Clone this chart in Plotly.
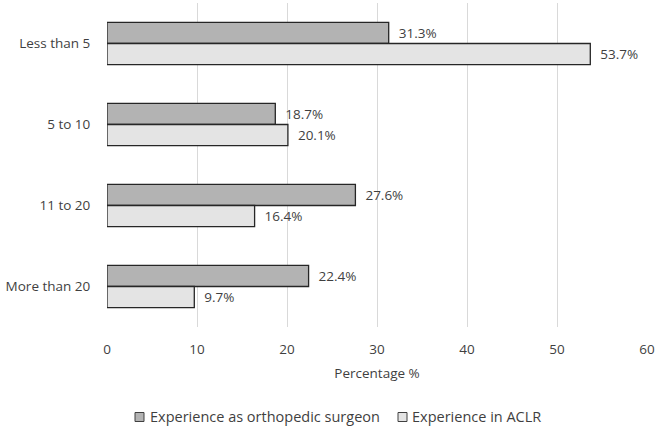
import plotly.graph_objects as go

categories = ["Less than 5", "5 to 10", "11 to 20", "More than 20"]
surgeon = [31.3, 18.7, 27.6, 22.4]
aclr = [53.7, 20.1, 16.4, 9.7]
series_names = ["Experience as orthopedic surgeon", "Experience in ACLR"]
series_colors = ["#b3b3b3", "#e4e4e4"]
x_ticks = [0, 10, 20, 30, 40, 50, 60]

W, H = 660, 427
ML, MR, MT, MB = 107, 13, 3, 100
PW, PH = W - ML - MR, H - MT - MB

TXT = "#3f3f3f"
FAM = "Open Sans, DejaVu Sans, sans-serif"
font = dict(family=FAM, size=13.5, color=TXT)
legend_font = dict(family=FAM, size=14.5, color=TXT)

fig = go.Figure()
for name, vals, col in zip(series_names, [surgeon, aclr], series_colors):
    fig.add_trace(go.Bar(
        y=categories, x=vals, orientation="h", name=name,
        marker=dict(color=col, line=dict(color="#262626", width=1.3)),
        text=["\u00a0\u00a0" + f"{v:.1f}%" for v in vals], textposition="outside",
        textfont=font, cliponaxis=False, showlegend=False,
    ))

# custom legend (Excel-like: small bordered squares close to the text)
def px_x(px):
    return (px - ML) / PW

def px_y(py):
    return (H - MB - py) / PH

legend_items = [(135, 148), (398, 410)]
ly = 417
for (sx, tx), name, col in zip(legend_items, series_names, series_colors):
    fig.add_shape(type="rect", xref="paper", yref="paper",
                  x0=px_x(sx), x1=px_x(sx + 9), y0=px_y(ly + 4.5), y1=px_y(ly - 4.5),
                  fillcolor=col, line=dict(color="#404040", width=1))
    fig.add_annotation(xref="paper", yref="paper", x=px_x(tx), y=px_y(ly),
                       text=name, showarrow=False, xanchor="left", yanchor="middle",
                       font=legend_font)

fig.update_layout(
    width=W, height=H,
    margin=dict(l=ML, r=MR, t=MT, b=MB, autoexpand=False),
    paper_bgcolor="white", plot_bgcolor="white",
    barmode="group", bargap=0.48, bargroupgap=0,
    font=font,
    showlegend=False,
    xaxis=dict(range=[0, 60], tickvals=x_ticks, showgrid=True, gridcolor="#d9d9d9",
               gridwidth=1, zeroline=False, showline=False,
               ticks="outside", ticklen=10, tickcolor="rgba(0,0,0,0)",
               title=dict(text="Percentage %", font=font, standoff=11),
               tickfont=font, automargin=False),
    yaxis=dict(autorange="reversed", showgrid=False, zeroline=False, showline=False,
               ticks="outside", ticklen=13, tickcolor="rgba(0,0,0,0)", tickfont=font,
               automargin=False),
)

fig.write_html("out.html")
